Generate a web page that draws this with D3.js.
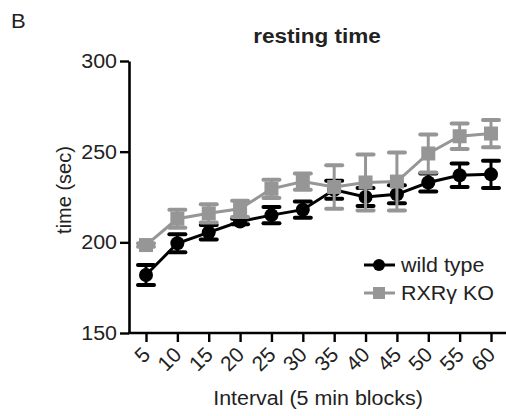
<html>
<head>
<script src="https://cdn.jsdelivr.net/npm/d3@7/dist/d3.min.js"></script>
<style>
	body { margin: 0; background: #fff; }
	text { font-family: Arial, "Liberation Sans", Helvetica, sans-serif; }
</style>
</head>
<body>
<div id="chart"></div>
<script>
	// values
	var intervals = ["5", "10", "15", "20", "25", "30", "35", "40", "45", "50", "55", "60"];
	var wildType = [182, 199.5, 205.5, 211.5, 215, 218, 229, 225, 226.5, 233, 237, 237.5];
	var wildTypeErr = [5.5, 5, 4, 1.5, 4.5, 4.5, 5, 5, 5, 5, 6.5, 7.5];
	var rxrKO = [198.5, 213, 216, 218.5, 229.5, 233.5, 230.5, 233, 233.5, 249, 258.5, 260];
	var rxrKOErr = [1, 5, 5, 4.5, 5, 4.5, 12, 15.5, 16, 10.5, 7, 7.5];
	var yTicks = [150, 200, 250, 300];

	var width = 506, height = 416;
	var fontSize = 19.5, stretch = "scale(1.1,1)";

	var svg = d3.select("#chart").append("svg")
		.attr("width", width)
		.attr("height", height);

	var x = d3.scalePoint().domain(intervals).range([146, 491]);
	var y = d3.scaleLinear().domain([150, 300]).range([333, 61]);

	function label(tx, ty, str, opts) {
		opts = opts || {};
		var g = svg.append("g").attr("transform", "translate(" + tx + "," + ty + ")" + (opts.rotate ? " rotate(" + opts.rotate + ")" : ""));
		return g.append("text")
			.attr("transform", opts.rotate ? null : stretch)
			.attr("text-anchor", opts.anchor || "start")
			.attr("font-size", opts.size || fontSize)
			.attr("font-weight", opts.bold ? "bold" : "normal")
			.attr("fill", "#222")
			.text(str);
	}

	// panel letter and title
	label(11, 28, "B", {size: 20});
	label(317, 43, "resting time", {anchor: "middle", bold: true, size: 20.5});

	// y axis
	var yAxis = svg.append("g")
		.attr("transform", "translate(129,0)")
		.call(d3.axisLeft(y).tickValues(yTicks).tickSize(9).tickSizeOuter(0).tickFormat(d3.format("d")));
	yAxis.select(".domain").attr("stroke", "#000").attr("stroke-width", 2.6);
	yAxis.selectAll(".tick line").attr("stroke", "#000").attr("stroke-width", 2.4);
	yAxis.selectAll(".tick text").remove();
	yTicks.forEach(function(t) {
		label(117, y(t) + 7, t, {anchor: "end"});
	});

	// x axis
	svg.append("line")
		.attr("x1", 128).attr("x2", 506)
		.attr("y1", y(150)).attr("y2", y(150))
		.attr("stroke", "#000").attr("stroke-width", 2.6);
	var xAxis = svg.append("g")
		.attr("transform", "translate(0," + y(150) + ")")
		.call(d3.axisBottom(x).tickSize(9).tickSizeOuter(0));
	xAxis.select(".domain").remove();
	xAxis.selectAll(".tick line").attr("stroke", "#000").attr("stroke-width", 2.4);
	xAxis.selectAll(".tick text")
		.attr("font-size", 21)
		.attr("fill", "#222")
		.attr("text-anchor", "end")
		.attr("dy", null)
		.attr("y", 0)
		.attr("transform", "translate(5,23) rotate(-45)");

	// axis titles
	label(71, 190, "time (sec)", {anchor: "middle", rotate: -90, size: 20});
	label(318, 405, "Interval (5 min blocks)", {anchor: "middle"});

	function drawSeries(values, errs, color, shape) {
		var g = svg.append("g");
		var pts = values.map(function(v, i) { return {k: intervals[i], v: v, e: errs[i]}; });
		// error bars
		var eb = g.selectAll(".err").data(pts).enter().append("g");
		eb.append("line")
			.attr("x1", function(d) { return x(d.k); })
			.attr("x2", function(d) { return x(d.k); })
			.attr("y1", function(d) { return y(d.v + d.e); })
			.attr("y2", function(d) { return y(d.v - d.e); })
			.attr("stroke", color).attr("stroke-width", 3);
		[1, -1].forEach(function(s) {
			eb.append("line")
				.attr("x1", function(d) { return x(d.k) - 8; })
				.attr("x2", function(d) { return x(d.k) + 8; })
				.attr("y1", function(d) { return y(d.v + s * d.e); })
				.attr("y2", function(d) { return y(d.v + s * d.e); })
				.attr("stroke", color).attr("stroke-width", 4).attr("stroke-linecap", "round");
		});
		// connecting line
		g.append("path")
			.datum(pts)
			.attr("fill", "none")
			.attr("stroke", color)
			.attr("stroke-width", 3)
			.attr("d", d3.line().x(function(d) { return x(d.k); }).y(function(d) { return y(d.v); }));
		// markers
		if (shape == "circle") {
			g.selectAll("circle").data(pts).enter().append("circle")
				.attr("cx", function(d) { return x(d.k); })
				.attr("cy", function(d) { return y(d.v); })
				.attr("r", 7)
				.attr("fill", color);
		} else {
			g.selectAll("rect").data(pts).enter().append("rect")
				.attr("x", function(d) { return x(d.k) - 7; })
				.attr("y", function(d) { return y(d.v) - 7; })
				.attr("width", 14).attr("height", 14)
				.attr("fill", color);
		}
	}

	drawSeries(wildType, wildTypeErr, "#000", "circle");
	drawSeries(rxrKO, rxrKOErr, "#969696", "square");

	// legend
	var legend = [
		{name: "wild type", color: "#000", shape: "circle", y: 265},
		{name: "RXR\u03b3 KO", color: "#969696", shape: "square", y: 293}
	];
	legend.forEach(function(l) {
		svg.append("line")
			.attr("x1", 364).attr("x2", 395)
			.attr("y1", l.y).attr("y2", l.y)
			.attr("stroke", l.color).attr("stroke-width", 3);
		if (l.shape == "circle") {
			svg.append("circle").attr("cx", 379).attr("cy", l.y).attr("r", 6).attr("fill", l.color);
		} else {
			svg.append("rect").attr("x", 373).attr("y", l.y - 6).attr("width", 12).attr("height", 12).attr("fill", l.color);
		}
		label(401, l.y + 7, l.name);
	});
</script>
</body>
</html>
